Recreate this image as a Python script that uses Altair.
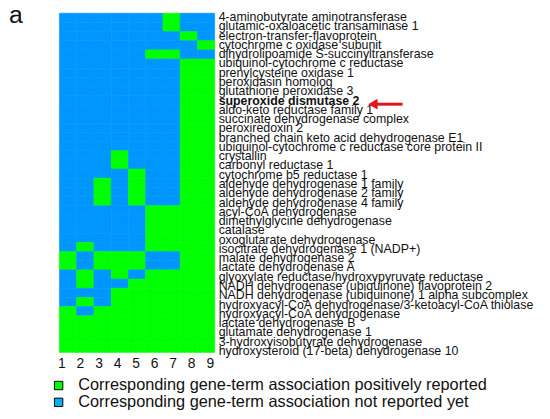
import altair as alt
import pandas as pd

genes = [
    "4-aminobutyrate aminotransferase",
    "glutamic-oxaloacetic transaminase 1",
    "electron-transfer-flavoprotein",
    "cytochrome c oxidase subunit",
    "dihydrolipoamide S-succinyltransferase",
    "ubiquinol-cytochrome c reductase",
    "prenylcysteine oxidase 1",
    "peroxidasin homolog",
    "glutathione peroxidase 3",
    "superoxide dismutase 2",
    "aldo-keto reductase family 1",
    "succinate dehydrogenase complex",
    "peroxiredoxin 2",
    "branched chain keto acid dehydrogenase E1",
    "ubiquinol-cytochrome c reductase core protein II",
    "crystallin",
    "carbonyl reductase 1",
    "cytochrome b5 reductase 1",
    "aldehyde dehydrogenase 1 family",
    "aldehyde dehydrogenase 2 family",
    "aldehyde dehydrogenase 4 family",
    "acyl-CoA dehydrogenase",
    "dimethylglycine dehydrogenase",
    "catalase",
    "oxoglutarate dehydrogenase",
    "isocitrate dehydrogenase 1 (NADP+)",
    "malate dehydrogenase 2",
    "lactate dehydrogenase A",
    "glyoxylate reductase/hydroxypyruvate reductase",
    "NADH dehydrogenase (ubiquinone) flavoprotein 2",
    "NADH dehydrogenase (ubiquinone) 1 alpha subcomplex",
    "hydroxyacyl-CoA dehydrogenase/3-ketoacyl-CoA thiolase",
    "hydroxyacyl-CoA dehydrogenase",
    "lactate dehydrogenase B",
    "glutamate dehydrogenase 1",
    "3-hydroxyisobutyrate dehydrogenase",
    "hydroxysteroid (17-beta) dehydrogenase 10",
]

# 1 = positively reported (green), 0 = not reported yet (blue); columns 1..9
patterns = [
    "000000100", "000000100", "000000010", "000000001", "000001100",
    "000000011", "000000011", "000000011", "000000011", "000000011",
    "000000011", "000000011", "000000011", "000000011", "000000011",
    "000100011", "000100011", "000010011", "001010011", "001010011",
    "001010011", "000001111", "000001111", "000001111", "000001111",
    "010001111", "101110011", "101110011", "010101111", "010011111",
    "000111111", "010111111", "101111111", "111111111", "111111111",
    "111111111", "111111111",
]

columns = [1, 2, 3, 4, 5, 6, 7, 8, 9]
highlight = "superoxide dismutase 2"
legend_labels = [
    "Corresponding gene-term association positively reported",
    "Corresponding gene-term association not reported yet",
]
legend_colors = ["#00FF00", "#00B0F0"]

GREEN = "#00FF00"
BLUE = "#0096FF"
FONT = "Liberation Sans"

rows = []
for g, p in zip(genes, patterns):
    for c, ch in zip(columns, p):
        rows.append({"gene": g, "col": c, "status": "yes" if ch == "1" else "no"})
df = pd.DataFrame(rows)

yscale = alt.Scale(domain=genes, paddingInner=0, paddingOuter=0)
label_scale = alt.Scale(domain=genes, paddingInner=0, paddingOuter=0, range=[-0.7, 346.2])
color_scale = alt.Scale(domain=["yes", "no"], range=[GREEN, BLUE])

heat = alt.Chart(df).mark_rect(strokeWidth=0.6).encode(
    x=alt.X("col:O", axis=None, scale=alt.Scale(domain=columns, paddingInner=0, paddingOuter=0)),
    y=alt.Y("gene:N", axis=None, scale=yscale),
    color=alt.Color("status:N", scale=color_scale, legend=None),
    stroke=alt.Stroke("status:N", scale=color_scale, legend=None),
)

lab_df = pd.DataFrame({"gene": genes, "bold": [g == highlight for g in genes]})
labels = alt.Chart(lab_df).transform_filter("!datum.bold").mark_text(
    align="left", baseline="middle", fontSize=12.5, font=FONT, color="#111111"
).encode(
    y=alt.Y("gene:N", axis=None, scale=label_scale),
    x=alt.value(161),
    text="gene:N",
)
labels_bold = alt.Chart(lab_df).transform_filter("datum.bold").mark_text(
    align="left", baseline="middle", fontSize=12.5, font=FONT, color="#111111",
    fontWeight="bold"
).encode(
    y=alt.Y("gene:N", axis=None, scale=label_scale),
    x=alt.value(161),
    text="gene:N",
)

num_df = pd.DataFrame({"n": columns})
nums = alt.Chart(num_df).mark_text(
    fontSize=14, font=FONT, baseline="alphabetic", color="#111111"
).encode(
    x=alt.X("n:Q", axis=None, scale=alt.Scale(domain=[0.867, 9.24], nice=False, zero=False)),
    y=alt.value(359),
    text="n:Q",
)

leg_df = pd.DataFrame({"label": legend_labels, "color": legend_colors})
leg_y = alt.Y("label:N", axis=None,
              scale=alt.Scale(type="point", domain=legend_labels, range=[376.5, 393.5], padding=0))
leg_sq = alt.Chart(leg_df).mark_square(size=72, stroke="black", strokeWidth=1, opacity=1).encode(
    x=alt.value(-0.8),
    y=leg_y,
    fill=alt.Fill("color:N", scale=None),
)
leg_tx = alt.Chart(leg_df).mark_text(
    align="left", baseline="middle", fontSize=16.5, font=FONT, color="#111111"
).encode(
    x=alt.value(19),
    y=leg_y,
    text="label:N",
)

one = pd.DataFrame({"k": [0]})
arrow_line = alt.Chart(one).mark_rule(color="#E8141B", strokeWidth=3).encode(
    x=alt.value(320), x2=alt.value(347), y=alt.value(92)
)
arrow_head = alt.Chart(one).mark_point(
    shape="triangle-left", filled=True, size=120, color="#E8141B", opacity=1
).encode(x=alt.value(317), y=alt.value(92))

panel = alt.Chart(one).mark_text(
    align="left", baseline="alphabetic", fontSize=25, font=FONT, color="#111111"
).encode(x=alt.value(-51), y=alt.value(10), text=alt.value("a"))

chart = alt.layer(
    heat, labels, labels_bold, nums, leg_sq, leg_tx, arrow_line, arrow_head, panel
).resolve_scale(
    x="independent", y="independent", color="independent", stroke="independent"
).properties(
    width=157,
    height=343,
    autosize=alt.AutoSizeParams(type="none"),
    padding={"left": 52, "top": 3, "right": 331, "bottom": 60},
).configure_view(stroke=None)

chart.save("out.html", embed_options={"renderer": "svg", "actions": False})
